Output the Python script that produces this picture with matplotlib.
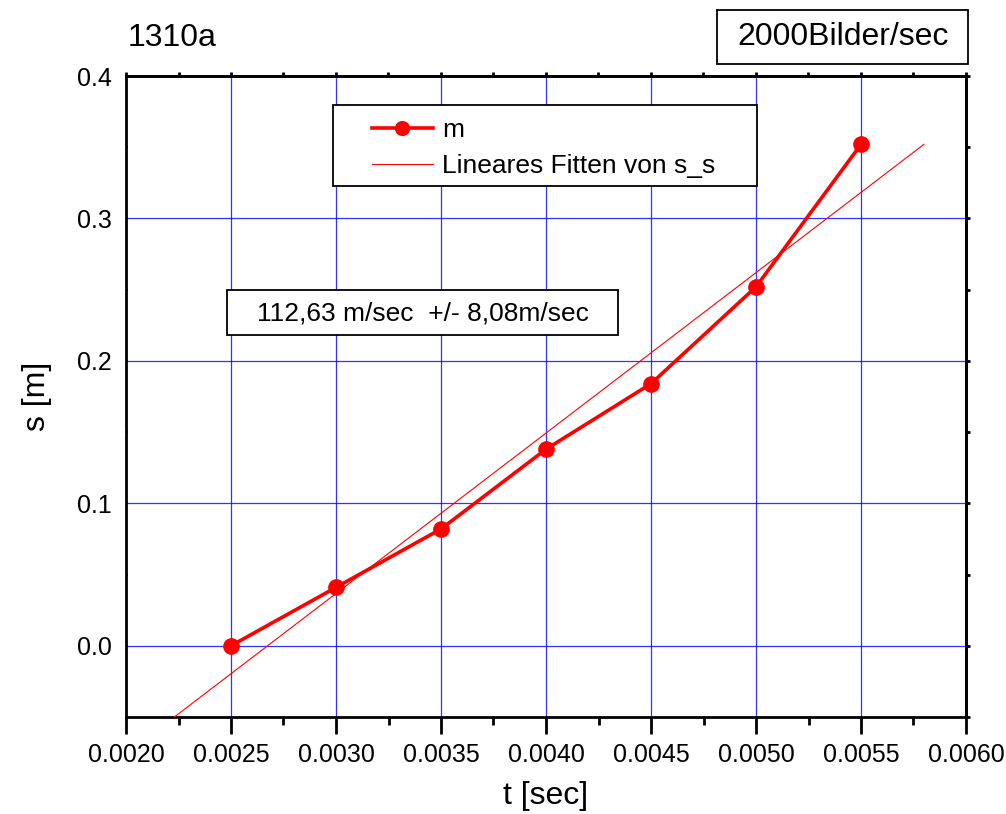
import numpy as np
import matplotlib
matplotlib.use("Agg")
import matplotlib.pyplot as plt
from matplotlib.patches import Rectangle
from matplotlib.ticker import MultipleLocator, FormatStrFormatter, NullFormatter

plt.rcParams['font.family'] = ['Liberation Sans', 'DejaVu Sans']

# messwerte
t = [0.0025, 0.0030, 0.0035, 0.0040, 0.0045, 0.0050, 0.0055]
s = [0.000, 0.041, 0.082, 0.138, 0.184, 0.252, 0.352]

# linearer fit
slope = 112.63
intercept = -0.3012
fit_t = [0.0020, 0.0058]

W, H = 1006, 814


def box(x0, y0, x1, y1):
	# rahmen in pixeln (oben links = 0,0)
	ax.add_patch(Rectangle((x0 / W, 1 - y1 / H), (x1 - x0) / W, (y1 - y0) / H,
		transform=fig.transFigure, fc='white', ec='black', lw=1.3, zorder=5, clip_on=False))


fig = plt.figure(figsize=(W / 100, H / 100), dpi=100)
ax = fig.add_axes([126 / W, 1 - 717 / H, 840 / W, 641 / H])

ax.plot(t, s, color='red', lw=2.6, marker='o', ms=11, label='m', zorder=4)
fit_s = [slope * x + intercept for x in fit_t]
ax.plot(fit_t, fit_s, color='red', lw=0.8, label='Lineares Fitten von s_s', zorder=3)

ax.set_xlim(0.002, 0.006)
ax.set_ylim(-0.05, 0.4)
ax.xaxis.set_major_locator(MultipleLocator(0.0005))
ax.xaxis.set_minor_locator(MultipleLocator(0.00025))
ax.yaxis.set_major_locator(MultipleLocator(0.1))
ax.yaxis.set_minor_locator(MultipleLocator(0.05))
ax.xaxis.set_major_formatter(FormatStrFormatter('%.4f'))
ax.yaxis.set_major_formatter(FormatStrFormatter('%.1f'))

ax.grid(True, which='major', color='#0000ff', lw=0.9, alpha=0.8)
ax.set_axisbelow(True)
for sp in ax.spines.values():
	sp.set_linewidth(2)
ax.tick_params(axis='x', which='both', direction='out', width=2, labelsize=18, pad=7, top=False)
ax.tick_params(axis='x', which='major', length=12)
ax.tick_params(axis='x', which='minor', length=6)
ax.tick_params(axis='y', which='both', direction='in', width=1.5, length=1.5, labelsize=18, pad=10, right=False)

# kurze ticks oben und rechts
secx = ax.secondary_xaxis('top')
secx.xaxis.set_major_locator(MultipleLocator(0.00025))
secx.xaxis.set_major_formatter(NullFormatter())
secy = ax.secondary_yaxis('right')
secy.yaxis.set_major_locator(MultipleLocator(0.05))
secy.yaxis.set_major_formatter(NullFormatter())
for sec in [secx, secy]:
	sec.tick_params(which='both', direction='out', length=3, width=2)
	for sp in sec.spines.values():
		sp.set_linewidth(2)

ax.set_xlabel('t [sec]', fontsize=23, labelpad=10)
ax.set_ylabel('s [m]', fontsize=23, labelpad=18)

# legende
box(333, 105, 757, 186)
leg = ax.legend(loc='upper left', bbox_to_anchor=(372 / W, 1 - 118 / H), bbox_transform=fig.transFigure,
	fontsize=19, frameon=False, borderpad=0, borderaxespad=0,
	handlelength=2.3, handletextpad=0.35, labelspacing=0.45, markerscale=0.9)
leg.set_zorder(6)

fig.text(128 / W, 1 - 38 / H, '1310a', fontsize=23, va='center', ha='left')
box(717, 10, 968, 64)
fig.text(843 / W, 1 - 37 / H, '2000Bilder/sec', fontsize=23, va='center', ha='center', zorder=6)
box(227, 290, 618, 335)
fig.text(423 / W, 1 - 313 / H, '112,63 m/sec  +/- 8,08m/sec', fontsize=19, va='center', ha='center', zorder=6)

fig.savefig('out.png', dpi=100)
